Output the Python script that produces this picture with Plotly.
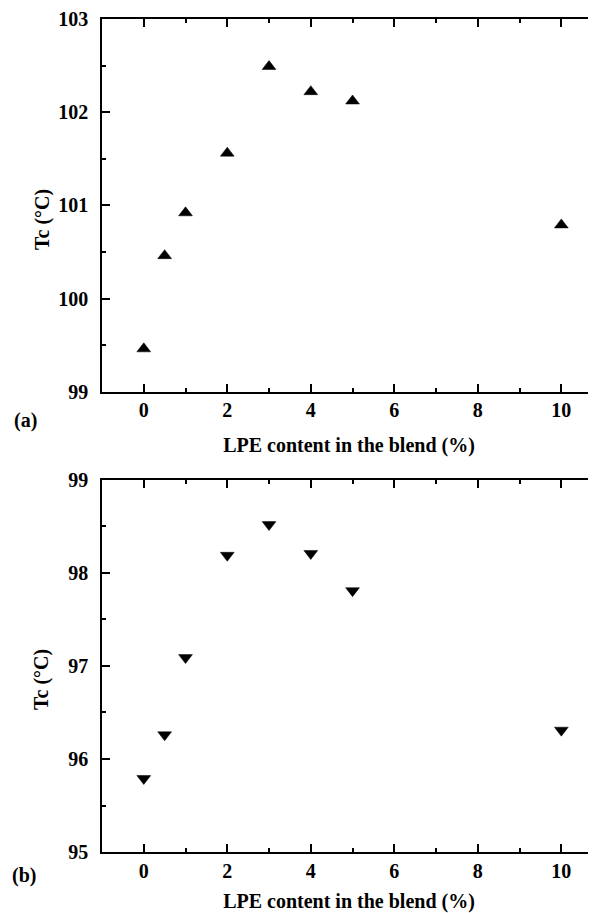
import plotly.graph_objects as go
from plotly.subplots import make_subplots

# Data
lpe_content = [0, 0.5, 1, 2, 3, 4, 5, 10]
tc_a = [99.46, 100.46, 100.92, 101.56, 102.49, 102.22, 102.12, 100.79]
tc_b = [95.79, 96.26, 97.09, 98.19, 98.52, 98.21, 97.81, 96.31]
x_ticks = [0, 2, 4, 6, 8, 10]
y_ticks_a = [99, 100, 101, 102, 103]
y_ticks_b = [95, 96, 97, 98, 99]

FONT = "Liberation Serif"
fig = make_subplots(rows=2, cols=1, vertical_spacing=0.1)

fig.add_trace(go.Scatter(x=lpe_content, y=tc_a, mode="markers",
                         marker=dict(symbol="triangle-up", size=12, color="black",
                                     line=dict(color="black", width=0.5)),
                         showlegend=False), row=1, col=1)
fig.add_trace(go.Scatter(x=lpe_content, y=tc_b, mode="markers",
                         marker=dict(symbol="triangle-down", size=12, color="black",
                                     line=dict(color="black", width=0.5)),
                         showlegend=False), row=2, col=1)

tickfont = dict(family=FONT, size=20, color="black", weight="bold")
common_x = dict(range=[-1, 10.83], tickmode="array", tickvals=x_ticks,
                ticks="inside", ticklen=8, tickwidth=1.5, tickcolor="black",
                showline=True, linecolor="black", linewidth=1.5, mirror="ticks",
                showgrid=False, zeroline=False, tickfont=tickfont, automargin=False,
                minor=dict(dtick=1, tick0=0, ticks="inside", ticklen=4, tickwidth=1.5,
                           tickcolor="black", showgrid=False),
                ticklabelstandoff=0,
                title=dict(text="<b>LPE content in the blend (%)</b>",
                           font=dict(family=FONT, size=20, color="black"), standoff=18))
common_y = dict(ticks="inside", ticklen=8, tickwidth=1.5, tickcolor="black",
                showline=True, linecolor="black", linewidth=1.5, mirror=False,
                showgrid=False, zeroline=False, tickfont=tickfont, dtick=1, automargin=False,
                minor=dict(dtick=0.5, ticks="inside", ticklen=4, tickwidth=1.5,
                           tickcolor="black", showgrid=False),
                ticklabelstandoff=8)

fig.update_xaxes(**common_x, domain=[0, 1])
fig.update_yaxes(**common_y)
fig.update_yaxes(range=[99, 103], tickvals=y_ticks_a, row=1, col=1)
fig.update_yaxes(range=[95, 99], tickvals=y_ticks_b, row=2, col=1)

fig.layout.yaxis.domain = [0.5526, 1.0]
fig.layout.yaxis2.domain = [0.0, 0.4466]

ann_font = dict(family=FONT, size=20, color="black")
for yy in (0.7599, 0.2077):
    fig.add_annotation(text="<b>Tc (°C)</b>", xref="paper", yref="paper", x=-0.1215, y=yy,
                       xanchor="center", yanchor="middle", textangle=-90, showarrow=False,
                       font=ann_font)
fig.add_annotation(text="<b>(a)</b>", xref="paper", yref="paper", x=-0.183, y=0.5178,
                   xanchor="left", yanchor="middle", showarrow=False, font=ann_font)
fig.add_annotation(text="<b>(b)</b>", xref="paper", yref="paper", x=-0.187, y=-0.0288,
                   xanchor="left", yanchor="middle", showarrow=False, font=ann_font)

# page body has an 8px margin, so the figure is 8px smaller and offset accordingly
fig.update_layout(width=588, height=905, margin=dict(l=94, r=0, t=11, b=61, autoexpand=False),
                  plot_bgcolor="white", paper_bgcolor="white",
                  font=dict(family=FONT, color="black"))

fig.write_html("out.html")
